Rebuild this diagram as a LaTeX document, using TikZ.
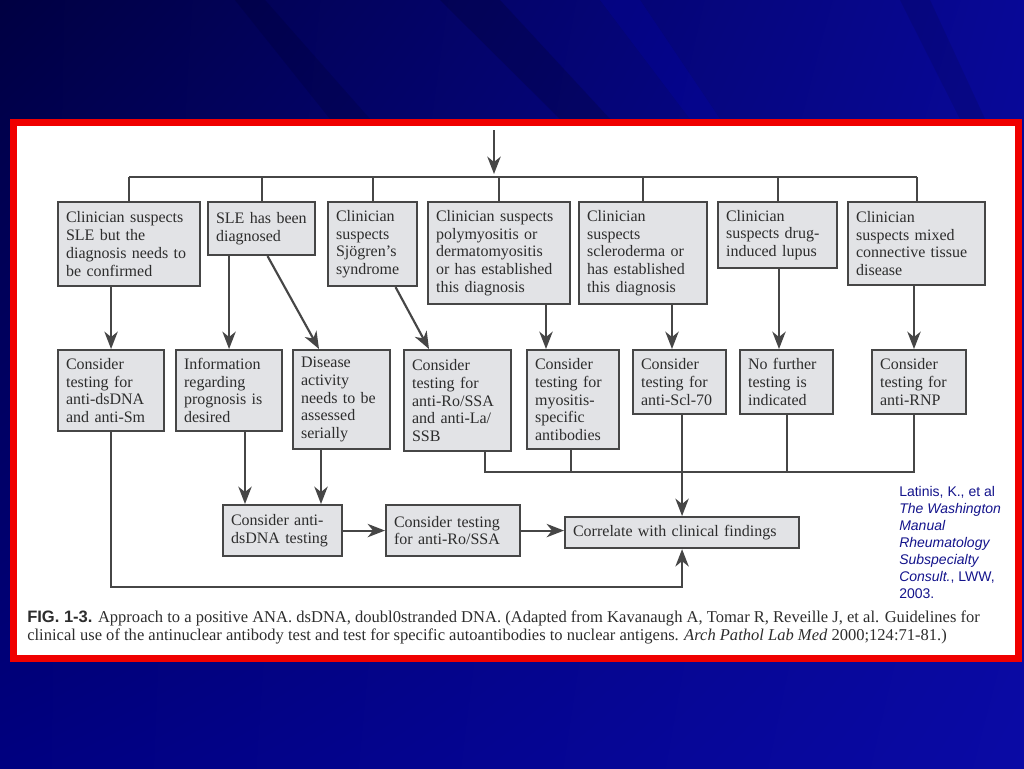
\documentclass[tikz,border=0pt]{standalone}
\usepackage{fontspec}
\setmainfont{Liberation Serif}
\setsansfont{Liberation Sans}
\usetikzlibrary{arrows.meta,calc,shadings}
\definecolor{ln}{RGB}{70,70,70}
\definecolor{boxfill}{RGB}{226,227,230}
\definecolor{txt}{RGB}{45,45,45}
\definecolor{citeblue}{RGB}{20,20,140}
\definecolor{framered}{RGB}{240,0,0}
\definecolor{bgul}{RGB}{0,0,66}
\definecolor{bgur}{RGB}{8,8,150}
\definecolor{bgll}{RGB}{0,0,128}
\definecolor{bglr}{RGB}{10,10,165}
\begin{document}
\begin{tikzpicture}[x=0.75pt,y=-0.75pt,
  box/.style 2 args={draw=ln, fill=boxfill, line width=1.6pt, anchor=north west,
    minimum width={#1*0.75pt}, minimum height={#2*0.75pt},
    text width={(#1-16)*0.75pt}, inner xsep=6pt, inner ysep=2pt, align=left,
    font=\fontsize{12}{13.3}\selectfont, text=txt},
  con/.style={draw=ln, line width=1.6pt},
  arr/.style={con, -{Stealth[length=13pt,width=10pt,inset=4pt]}}]
\useasboundingbox (0,0) rectangle (1024,768);
% background
\shade[upper left=bgul, upper right=bgur, lower left=bgll, lower right=bglr]
  (0,0) rectangle (1024,768);
\fill[black,opacity=0.12] (235,0) -- (265,0) -- (370,119) -- (330,119) -- cycle;
\fill[black,opacity=0.16] (440,0) -- (500,0) -- (610,119) -- (560,119) -- cycle;
\fill[blue,opacity=0.10] (600,0) -- (640,0) -- (720,119) -- (690,119) -- cycle;
\fill[black,opacity=0.10] (900,0) -- (930,0) -- (985,119) -- (960,119) -- cycle;
% frame
\fill[white] (14,122) rectangle (1019,659);
\draw[framered, line width=5.25pt] (13.5,122.5) rectangle (1018.5,658.5);

% top row
\node[box={142}{84}] (t1) at (57,201) {Clinician suspects\\SLE but the\\diagnosis needs to\\be confirmed};
\node[box={107}{53}] (t2) at (207,201) {\mbox{SLE has been}\\diagnosed};
\node[box={89}{84}] (t3) at (327,201) {Clinician\\suspects\\Sjögren's\\syndrome};
\node[box={142}{102}] (t4) at (427,201) {Clinician suspects\\polymyositis or\\dermatomyositis\\or has established\\this diagnosis};
\node[box={128}{102}] (t5) at (578,201) {Clinician\\suspects\\scleroderma or\\has established\\this diagnosis};
\node[box={119}{66}] (t6) at (717,201) {Clinician\\suspects drug-\\induced lupus};
\node[box={137}{83}] (t7) at (847,201) {Clinician\\suspects mixed\\connective tissue\\disease};

% middle row
\node[box={106}{81}] (m1) at (57,349) {Consider\\testing for\\anti-dsDNA\\and anti-Sm};
\node[box={106}{81}] (m2) at (175,349) {Information\\regarding\\prognosis is\\desired};
\node[box={97}{99}] (m3) at (292,349) {Disease\\activity\\needs to be\\assessed\\serially};
\node[box={107}{101}] (m4) at (403,349) {Consider\\testing for\\anti-Ro/SSA\\and anti-La/\\SSB};
\node[box={92}{99}] (m5) at (526,349) {Consider\\testing for\\myositis-\\specific\\antibodies};
\node[box={93}{64}] (m6) at (632,349) {Consider\\testing for\\anti-Scl-70};
\node[box={93}{64}] (m7) at (739,349) {No further\\testing is\\indicated};
\node[box={94}{64}] (m8) at (871,349) {Consider\\testing for\\anti-RNP};

% bottom row
\node[box={119}{51}] (b1) at (222,504) {Consider anti-\\dsDNA testing};
\node[box={134}{51}] (b2) at (385,504) {Consider testing\\for anti-Ro/SSA};
\node[box={234}{31}] (b3) at (564,516) {Correlate with clinical findings};

% entry and top bus
\coordinate (entry) at (494,130);
\coordinate (busl) at (t1.north |- 0,177);
\coordinate (busr) at (t7.north |- 0,177);
\draw[arr] (entry) -- (494,174);
\draw[con] (busl) -- (busr);
\foreach \n in {t1,t2,t3,t4,t5,t6,t7} \draw[con] (\n.north |- busl) -- (\n.north);

% top to middle
\draw[arr] (t1.south -| m1.north) -- (m1.north);
\draw[arr] (t2.south -| m2.north) -- (m2.north);
\draw[arr] ($(t2.south)+(6,0)$) -- ($(m3.north west)+(27,0)$);
\draw[arr] ($(t3.south)+(23,0)$) -- ($(m4.north west)+(26,0)$);
\coordinate (a5) at ($(m5.north west)+(20,0)$);
\draw[arr] (t4.south -| a5) -- (a5);
\coordinate (a6) at ($(m6.north west)+(40,0)$);
\draw[arr] (t5.south -| a6) -- (a6);
\coordinate (a7) at ($(m7.north west)+(40,0)$);
\draw[arr] (t6.south -| a7) -- (a7);
\coordinate (a8) at ($(m8.north west)+(43,0)$);
\draw[arr] (t7.south -| a8) -- (a8);

% middle to lower bus
\coordinate (bus2) at (0,472);
\coordinate (o4) at ($(m4.south east)+(-27,0)$);
\coordinate (o5) at ($(m5.south east)+(-49,0)$);
\coordinate (o8) at ($(m8.south west)+(43,0)$);
\draw[con] (o4) |- (o8 |- bus2) -- (o8);
\draw[con] (o5) -- (o5 |- bus2);
\draw[con] (m7.south) -- (m7.south |- bus2);
\draw[arr] (m6.south -| b3.north) -- (b3.north);

% to bottom row
\coordinate (i1) at ($(b1.north west)+(23,0)$);
\coordinate (i2) at ($(b1.north west)+(99,0)$);
\draw[arr] (i1 |- m2.south) -- (i1);
\draw[arr] (i2 |- m3.south) -- (i2);
\draw[arr] (b1.east) -- (b2.west);
\draw[arr] (b2.east) -- (b2.east -| b3.west);
\draw[arr] (m1.south) |- ($(b3.south)+(0,38)$) -- (b3.south);

% caption
\node[anchor=base west, inner sep=0, text=txt, font=\fontsize{12.4}{14}\selectfont] (cap1) at (27,622)
  {\textsf{\textbf{FIG. 1-3.}} Approach to a positive ANA. dsDNA, doubl0stranded DNA. (Adapted from Kavanaugh A, Tomar R, Reveille J, et al. Guidelines for};
\node[anchor=base west, inner sep=0, text=txt, font=\fontsize{12.4}{14}\selectfont] (cap2) at (27,640)
  {clinical use of the antinuclear antibody test and test for specific autoantibodies to nuclear antigens. \textit{Arch Pathol Lab Med} 2000;124:71-81.)};

% citation
\node[anchor=north west, inner sep=0, align=left, text=citeblue, font=\sffamily\fontsize{10.5}{12.75}\selectfont] (cite) at (899,486)
  {Latinis, K., et al\\\textit{The Washington}\\\textit{Manual}\\\textit{Rheumatology}\\\textit{Subspecialty}\\\textit{Consult.}, LWW,\\2003.};
\end{tikzpicture}
\end{document}
